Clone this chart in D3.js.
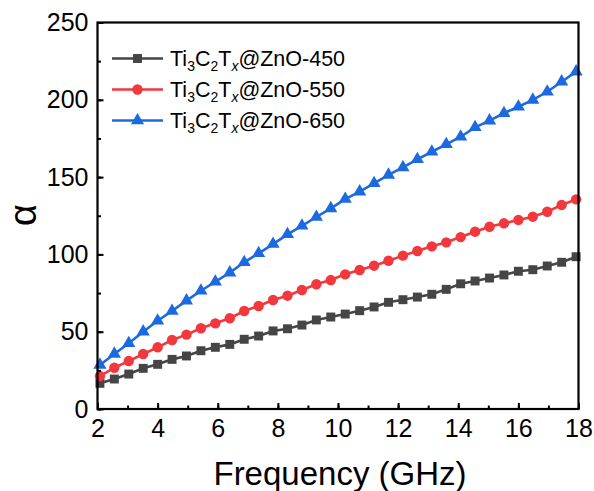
<!DOCTYPE html>
<html>
<head>
<meta charset="utf-8">
<script src="https://cdn.jsdelivr.net/npm/d3@7"></script>
<style>
  html, body { margin: 0; padding: 0; background: #fff; }
  svg { display: block; }
  text { font-family: Arial, "Liberation Sans", sans-serif; fill: #000; }
</style>
</head>
<body>
<svg id="chart" width="594" height="491"></svg>
<script>
// ---- data ----
const freq = [2.08, 2.56, 3.04, 3.52, 4.00, 4.48, 4.96, 5.44, 5.92, 6.40, 6.88, 7.36, 7.84, 8.32, 8.80, 9.28, 9.76,
              10.24, 10.72, 11.20, 11.68, 12.16, 12.64, 13.12, 13.60, 14.08, 14.56, 15.04, 15.52, 16.00, 16.48, 16.96, 17.44, 17.92];
const alpha450 = [16.6, 19.4, 22.6, 26.3, 28.9, 32.1, 34.3, 37.7, 39.9, 41.8, 45.1, 47.2, 50.5, 51.9, 54.3, 57.6, 59.5,
                  61.4, 63.6, 66.0, 69.0, 70.7, 72.4, 74.2, 77.4, 81.0, 82.8, 84.7, 86.7, 89.1, 90.1, 92.5, 94.9, 98.5];
const alpha550 = [21.3, 26.7, 31.0, 35.6, 39.9, 44.6, 48.1, 52.2, 55.4, 58.7, 63.4, 66.6, 70.5, 73.3, 77.0, 80.7, 83.4,
                  87.1, 89.9, 92.7, 95.9, 99.2, 102.2, 105.2, 107.8, 111.2, 114.7, 117.9, 120.1, 122.3, 124.4, 127.6, 132.0, 135.6];
const alpha650 = [28.5, 35.6, 42.5, 50.0, 57.1, 63.4, 70.1, 76.5, 82.3, 88.2, 94.9, 100.7, 106.7, 113.0, 118.5, 124.2, 129.8,
                  135.8, 140.6, 146.0, 151.4, 156.3, 161.5, 166.4, 171.2, 176.1, 182.2, 186.5, 191.3, 195.5, 199.9, 205.2, 211.7, 218.2];
const seriesNames = ["450", "550", "650"];
const xTicks = [2, 4, 6, 8, 10, 12, 14, 16, 18];
const yTicks = [0, 50, 100, 150, 200, 250];
const xLabel = "Frequency (GHz)";
const yLabel = "α";

// ---- layout ----
const svg = d3.select("#chart");
const L = 97.5, R = 578.5, T = 22.5, B = 409;
const x = d3.scaleLinear().domain([2, 18]).range([L, R]);
const y = d3.scaleLinear().domain([0, 250]).range([B, T]);

const series = [
  { name: seriesNames[0], values: alpha450, color: "#454545", shape: d3.symbolSquare, size: 80 },
  { name: seriesNames[1], values: alpha550, color: "#f2383c", shape: d3.symbolCircle, size: 85 },
  { name: seriesNames[2], values: alpha650, color: "#1d6ae0", shape: d3.symbolTriangle, size: 75 }
];

const line = d3.line().x(d => x(d[0])).y(d => y(d[1]));

series.forEach(s => {
  const pts = freq.map((f, i) => [f, s.values[i]]);
  const g = svg.append("g");
  g.append("path").attr("d", line(pts)).attr("fill", "none")
    .attr("stroke", s.color).attr("stroke-width", 2.6);
  g.selectAll("path.m").data(pts).enter().append("path").attr("class", "m")
    .attr("d", d3.symbol().type(s.shape).size(s.size))
    .attr("transform", d => `translate(${x(d[0])},${y(d[1])})`)
    .attr("fill", s.color);
});

// ---- axes (ticks inward) ----
const xMinor = d3.range(2, 18.01, 1);
const yMinor = d3.range(0, 250.01, 25);

const xAxis = svg.append("g").attr("transform", `translate(0,${B})`)
  .call(d3.axisBottom(x).tickValues(xTicks).tickSize(-6).tickPadding(10).tickFormat(d3.format("d")));
svg.append("g").attr("transform", `translate(0,${B})`)
  .call(d3.axisBottom(x).tickValues(xMinor).tickSize(-3.5).tickFormat(""))
  .call(g => g.select(".domain").remove());

const yAxis = svg.append("g").attr("transform", `translate(${L},0)`)
  .call(d3.axisLeft(y).tickValues(yTicks).tickSize(-6).tickPadding(9).tickFormat(d3.format("d")));
svg.append("g").attr("transform", `translate(${L},0)`)
  .call(d3.axisLeft(y).tickValues(yMinor).tickSize(-3.5).tickFormat(""))
  .call(g => g.select(".domain").remove());

[xAxis, yAxis].forEach(a => {
  a.selectAll("text").attr("font-size", 25).attr("font-family", "Arial, 'Liberation Sans', sans-serif").attr("fill", "#000");
  a.selectAll("line").attr("stroke", "#000").attr("stroke-width", 2);
  a.select(".domain").remove();
});
svg.selectAll("g line").attr("stroke-width", 2);

// frame
svg.append("rect").attr("x", L).attr("y", T).attr("width", R - L).attr("height", B - T)
  .attr("fill", "none").attr("stroke", "#000").attr("stroke-width", 2.2);

// axis titles
svg.append("text").attr("x", 340).attr("y", 485).attr("text-anchor", "middle")
  .attr("font-size", 33).text(xLabel);
svg.append("text").attr("transform", "translate(36,215) rotate(-90)").attr("text-anchor", "middle")
  .attr("font-family", "'Liberation Serif', 'Times New Roman', serif").attr("font-size", 38).text(yLabel);

// legend
const leg = svg.append("g");
series.forEach((s, i) => {
  const cy = 58.5 + i * 31;
  leg.append("line").attr("x1", 112).attr("x2", 163).attr("y1", cy).attr("y2", cy)
    .attr("stroke", s.color).attr("stroke-width", 2.6);
  leg.append("path").attr("d", d3.symbol().type(s.shape).size(s.size)())
    .attr("transform", `translate(137.5,${cy})`).attr("fill", s.color);
  const t = leg.append("text").attr("x", 170).attr("y", cy + 7.5).attr("font-size", 21.5);
  t.append("tspan").text("Ti");
  t.append("tspan").attr("font-size", 14).attr("dy", 5).text("3");
  t.append("tspan").attr("dy", -5).text("C");
  t.append("tspan").attr("font-size", 14).attr("dy", 5).text("2");
  t.append("tspan").attr("dy", -5).text("T");
  t.append("tspan").attr("font-size", 14).attr("dy", 5).attr("font-style", "italic").text("x");
  t.append("tspan").attr("dy", -5).text("@ZnO-" + s.name);
});
</script>
</body>
</html>
